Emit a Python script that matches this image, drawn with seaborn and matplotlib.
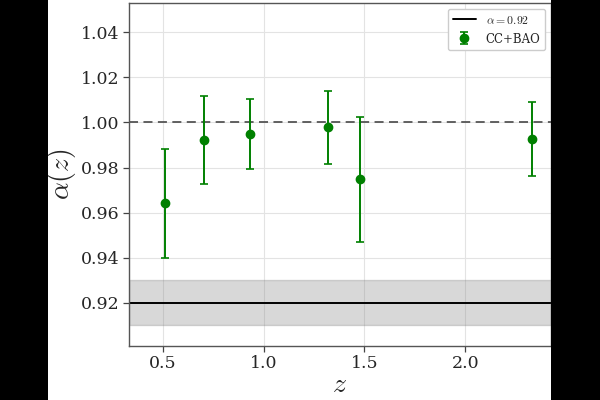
import matplotlib
matplotlib.use("Agg")
import matplotlib.pyplot as plt
from matplotlib.patches import Rectangle
import seaborn as sns
import numpy as np

# Data
z_vals = [0.51, 0.706, 0.932, 1.32, 1.48, 2.33]
alpha_vals = [0.9641, 0.9921, 0.9948, 0.9978, 0.9749, 0.9926]
alpha_err = [0.024, 0.0195, 0.0156, 0.016, 0.0277, 0.0163]
alpha_const = 0.92
alpha_const_err = 0.01
ref_line = 1.0
yticks = [0.92, 0.94, 0.96, 0.98, 1.00, 1.02, 1.04]
xticks = [0.5, 1.0, 1.5, 2.0]

sns.set_theme(style="whitegrid")
plt.rcParams['font.family'] = ['DejaVu Serif']
plt.rcParams['mathtext.fontset'] = 'cm'

fig = plt.figure(figsize=(6, 4), dpi=100, facecolor='white')
ax = fig.add_axes([129/600, (400-345.7)/400, (551-129)/600, (345.7-3)/400])
ax.set_facecolor('white')

ax.axhspan(alpha_const - alpha_const_err, alpha_const + alpha_const_err,
           color='gray', alpha=0.3, zorder=1)
ax.axhline(alpha_const, color='black', lw=1.4, label=r'$\alpha = 0.92$', zorder=2)
ax.axhline(ref_line, color='#555555', lw=1.3, ls=(0, (5, 3)), zorder=2)

ax.errorbar(z_vals, alpha_vals, yerr=alpha_err, fmt='o', color='green',
            markersize=6, elinewidth=1.4, capsize=3, capthick=1.2,
            label='CC+BAO', zorder=3)

ax.set_xlim(0.332, 2.426)
ax.set_ylim(0.901, 1.053)
ax.set_xticks(xticks)
ax.set_yticks(yticks)
ax.set_yticklabels([f"{v:.2f}" for v in yticks])
ax.set_xticklabels([f"{v:.1f}" for v in xticks])
ax.tick_params(axis='both', labelsize=12.5, length=4, width=0.9,
               color='#444444', direction='out', pad=3, left=True, bottom=True)
ax.grid(True, color='#e3e3e3', lw=0.8)
for s in ax.spines.values():
    s.set_color('#555555')
    s.set_linewidth(1.0)

ax.set_xlabel(r'$z$', fontsize=20, labelpad=-1)
ax.set_ylabel(r'$\alpha(z)$', fontsize=20, labelpad=2)

leg = ax.legend(loc='upper right', fontsize=8.5, frameon=True, framealpha=1,
                edgecolor='#cccccc', borderaxespad=0.5)

# Black side bands
fig.patches.append(Rectangle((0, 0), 48/600, 1, transform=fig.transFigure,
                             facecolor='black', edgecolor='none', zorder=10))
fig.patches.append(Rectangle((551/600, 0), 49/600, 1, transform=fig.transFigure,
                             facecolor='black', edgecolor='none', zorder=10))

fig.savefig('out.png', dpi=100, facecolor='white')
